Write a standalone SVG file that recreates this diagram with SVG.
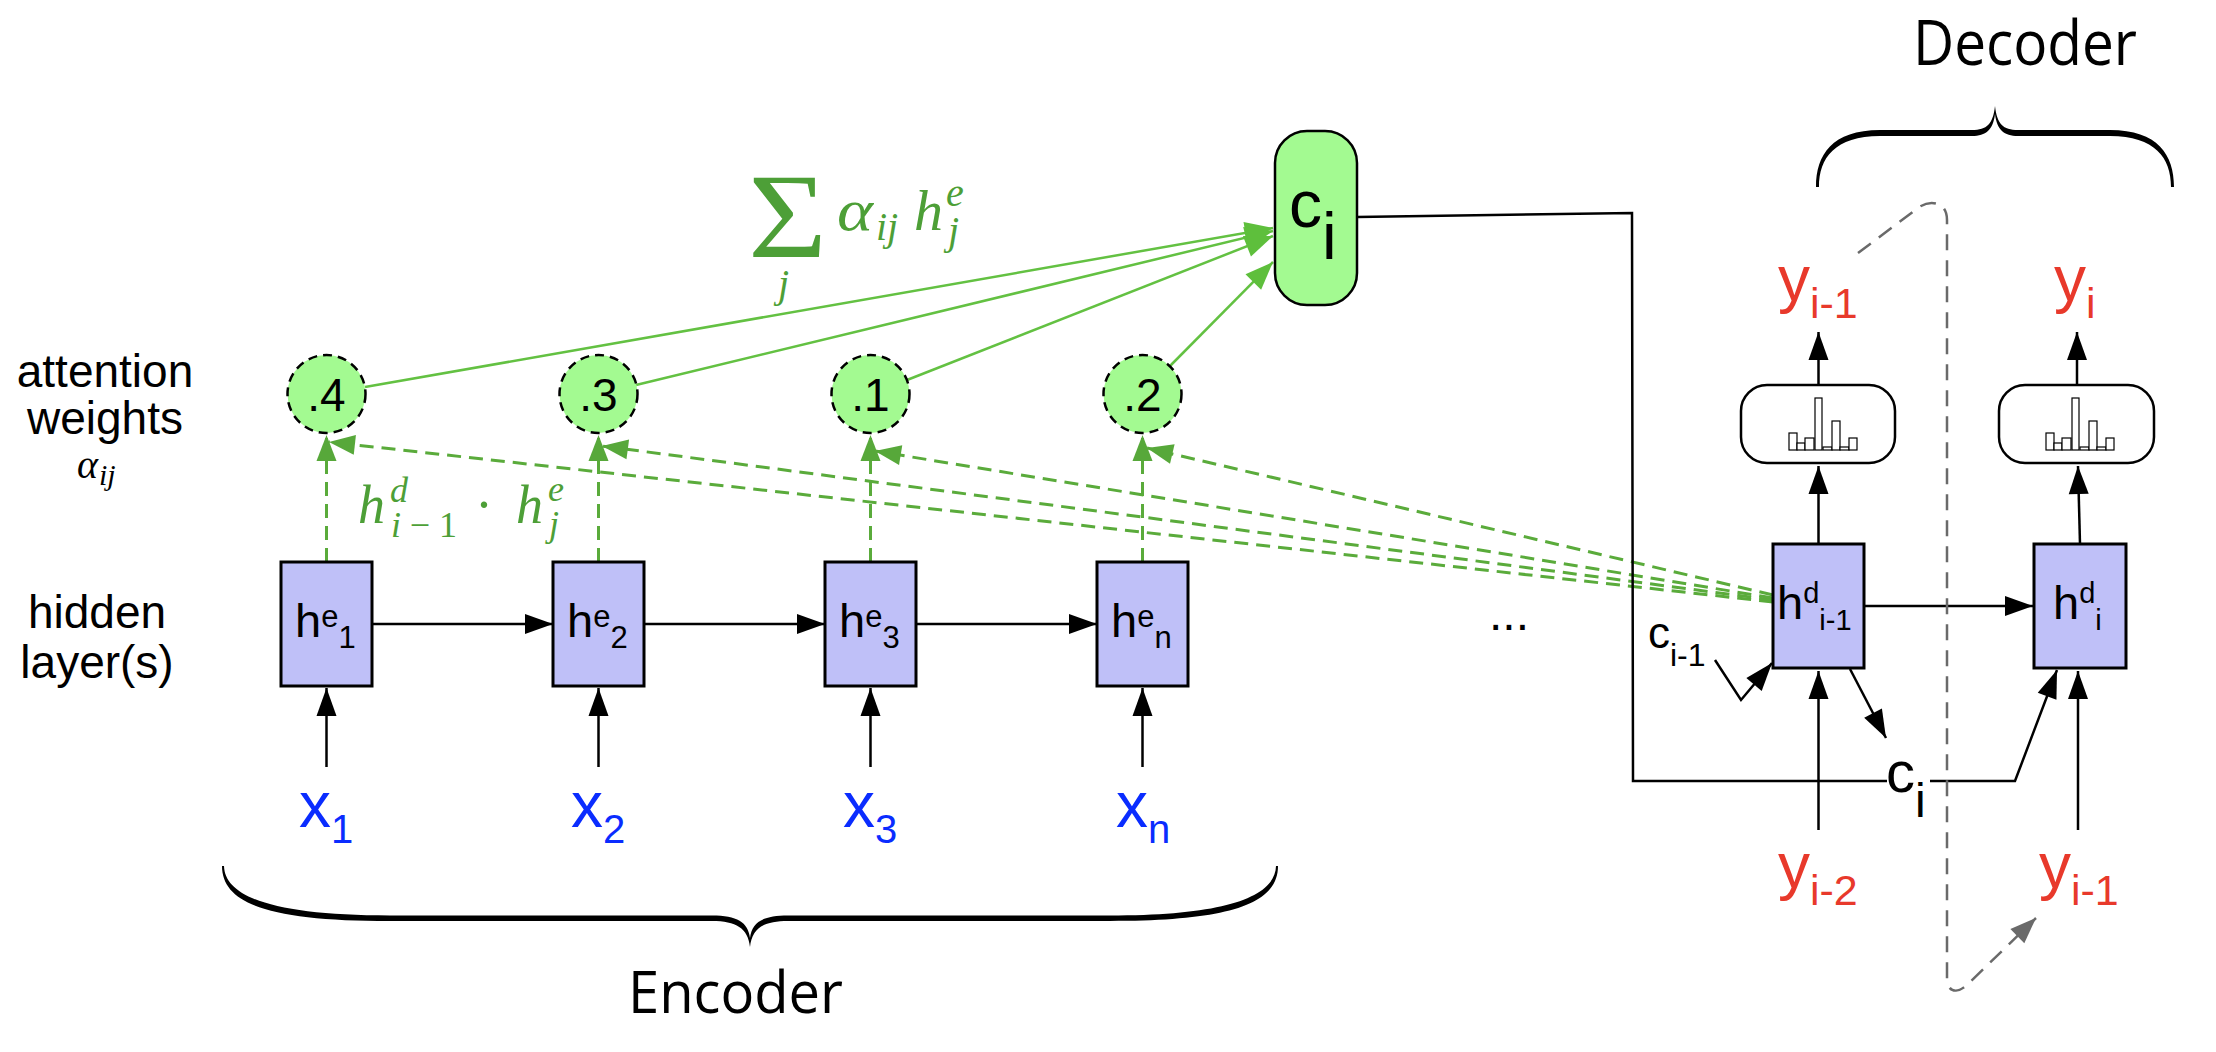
<svg xmlns="http://www.w3.org/2000/svg" width="2216" height="1052" viewBox="0 0 2216 1052">
<style>
text{font-family:"Liberation Sans",Arial,sans-serif;fill:#000}
.box{fill:#bfc0f8;stroke:#000;stroke-width:3}
.att{fill:#a3fa91;stroke:#000;stroke-width:2.5;stroke-dasharray:9 6}
.ci{fill:#a3fa91;stroke:#000;stroke-width:2.5}
.blk{stroke:#000;stroke-width:2.5;fill:none}
.gd{stroke:#5aab3b;stroke-width:3;stroke-dasharray:14 8;fill:none}
.gs{stroke:#63c142;stroke-width:2.5;fill:none}
.gray{stroke:#6a6a6a;stroke-width:2.5;stroke-dasharray:16 10;fill:none}
.math{font-family:"Liberation Serif","Times New Roman",serif;font-style:italic;fill:#4d9f37}
.mk{font-family:"Liberation Serif","Times New Roman",serif;font-style:italic;fill:#000}
.up{font-style:normal}
.xl{fill:#0a2cff}
.yl{fill:#e8392b}
.title{font-family:"Open Sans","Noto Sans",sans-serif}
.sm{fill:#fff;stroke:#000;stroke-width:2.5}
.bar{fill:#fff;stroke:#000;stroke-width:1.2}
</style>
<defs>
<marker id="ab" markerUnits="userSpaceOnUse" markerWidth="28" markerHeight="20" refX="28" refY="10" orient="auto" overflow="visible"><path d="M0,0 L28,10 L0,20 z" fill="#000"/></marker>
<marker id="ag" markerUnits="userSpaceOnUse" markerWidth="26" markerHeight="20" refX="26" refY="10" orient="auto" overflow="visible"><path d="M0,0 L26,10 L0,20 z" fill="#57a83a"/></marker>
<marker id="as" markerUnits="userSpaceOnUse" markerWidth="28" markerHeight="22" refX="28" refY="11" orient="auto" overflow="visible"><path d="M0,0 L28,11 L0,22 z" fill="#5ebf3c"/></marker>
<marker id="ay" markerUnits="userSpaceOnUse" markerWidth="26" markerHeight="20" refX="26" refY="10" orient="auto" overflow="visible"><path d="M0,0 L26,10 L0,20 z" fill="#6a6a6a"/></marker>
</defs>
<rect width="2216" height="1052" fill="#fff"/>

<!-- side labels -->
<g id="label-attention">
<text x="105" y="387" font-size="46" text-anchor="middle">attention</text>
<text x="105" y="434" font-size="46" text-anchor="middle">weights</text>
<text class="mk" x="77" y="478" font-size="40" textLength="21" lengthAdjust="spacingAndGlyphs">α</text>
<text class="mk" x="99" y="485" font-size="30">ij</text>
</g>
<g id="label-hidden">
<text x="97" y="628" font-size="46" text-anchor="middle">hidden</text>
<text x="97" y="678" font-size="46" text-anchor="middle">layer(s)</text>
</g>

<!-- connectors -->
<g id="connectors">
<path class="blk" d="M372,624 L553,624" marker-end="url(#ab)"/>
<path class="blk" d="M644,624 L825,624" marker-end="url(#ab)"/>
<path class="blk" d="M916,624 L1097,624" marker-end="url(#ab)"/>
<path class="blk" d="M326.5,767 L326.5,688" marker-end="url(#ab)"/>
<path class="blk" d="M598.5,767 L598.5,688" marker-end="url(#ab)"/>
<path class="blk" d="M870.5,767 L870.5,688" marker-end="url(#ab)"/>
<path class="blk" d="M1142.5,767 L1142.5,688" marker-end="url(#ab)"/>
<path class="gd" d="M326.5,562 L326.5,435" marker-end="url(#ag)"/>
<path class="gd" d="M598.5,562 L598.5,435" marker-end="url(#ag)"/>
<path class="gd" d="M870.5,562 L870.5,435" marker-end="url(#ag)"/>
<path class="gd" d="M1142.5,562 L1142.5,435" marker-end="url(#ag)"/>
<path class="gd" d="M1773,602 L329,442" marker-end="url(#ag)"/>
<path class="gd" d="M1773,600 L602,446" marker-end="url(#ag)"/>
<path class="gd" d="M1773,598 L875,451" marker-end="url(#ag)"/>
<path class="gd" d="M1773,595 L1147,448" marker-end="url(#ag)"/>
<path class="gs" d="M365,387 L1273,228" marker-end="url(#as)"/>
<path class="gs" d="M636,385 L1273,231" marker-end="url(#as)"/>
<path class="gs" d="M907,380 L1273,236" marker-end="url(#as)"/>
<path class="gs" d="M1170,366 L1273,262" marker-end="url(#as)"/>
<path class="blk" d="M1357,217 L1632,213 L1633,781 L1887,781"/>
<path class="blk" d="M1930,781 L2015,781 L2057,670" marker-end="url(#ab)"/>
<path class="blk" d="M1864,606 L2033,606" marker-end="url(#ab)"/>
<path class="blk" d="M1818.5,544 L1818.5,466" marker-end="url(#ab)"/>
<path class="blk" d="M2080,544 L2078,466" marker-end="url(#ab)"/>
<path class="blk" d="M1818.5,398 L1818.5,332" marker-end="url(#ab)"/>
<path class="blk" d="M2077,385 L2077,332" marker-end="url(#ab)"/>
<path class="blk" d="M1818.5,830 L1818.5,671" marker-end="url(#ab)"/>
<path class="blk" d="M2078,830 L2078,671" marker-end="url(#ab)"/>
<path class="blk" d="M1850,669 L1886,738" marker-end="url(#ab)"/>
<path class="blk" d="M1715,660 L1741,700 L1772,663" marker-end="url(#ab)"/>
<path class="gray" d="M1858,253 L1918,208 C1928,200 1947,200 1947,220 L1947,978 C1947,993 1958,994 1968,984 L2036,918" marker-end="url(#ay)"/>
</g>

<!-- encoder hidden nodes -->
<g id="he1"><rect class="box" x="281" y="562" width="91" height="124"/><text x="295" y="637" font-size="47">h<tspan font-size="31" dy="-10">e</tspan><tspan font-size="31" dy="21">1</tspan></text></g>
<g id="he2"><rect class="box" x="553" y="562" width="91" height="124"/><text x="567" y="637" font-size="47">h<tspan font-size="31" dy="-10">e</tspan><tspan font-size="31" dy="21">2</tspan></text></g>
<g id="he3"><rect class="box" x="825" y="562" width="91" height="124"/><text x="839" y="637" font-size="47">h<tspan font-size="31" dy="-10">e</tspan><tspan font-size="31" dy="21">3</tspan></text></g>
<g id="hen"><rect class="box" x="1097" y="562" width="91" height="124"/><text x="1111" y="637" font-size="47">h<tspan font-size="31" dy="-10">e</tspan><tspan font-size="31" dy="21">n</tspan></text></g>

<!-- attention weights -->
<g id="w1"><circle class="att" cx="326.5" cy="394" r="39"/><text x="326.5" y="411" font-size="46" text-anchor="middle">.4</text></g>
<g id="w2"><circle class="att" cx="598.5" cy="394" r="39"/><text x="598.5" y="411" font-size="46" text-anchor="middle">.3</text></g>
<g id="w3"><circle class="att" cx="870.5" cy="394" r="39"/><text x="870.5" y="411" font-size="46" text-anchor="middle">.1</text></g>
<g id="w4"><circle class="att" cx="1142.5" cy="394" r="39"/><text x="1142.5" y="411" font-size="46" text-anchor="middle">.2</text></g>

<!-- inputs -->
<g id="x1"><text class="xl" x="299" y="827" font-size="64">x<tspan font-size="40" dy="16">1</tspan></text></g>
<g id="x2"><text class="xl" x="571" y="827" font-size="64">x<tspan font-size="40" dy="16">2</tspan></text></g>
<g id="x3"><text class="xl" x="843" y="827" font-size="64">x<tspan font-size="40" dy="16">3</tspan></text></g>
<g id="xn"><text class="xl" x="1116" y="827" font-size="64">x<tspan font-size="40" dy="16">n</tspan></text></g>

<!-- formulas -->
<g id="dot-formula">
<text class="math" x="358" y="523" font-size="54">h</text>
<text class="math" x="390" y="502" font-size="36">d</text>
<text class="math" x="391" y="537" font-size="36" textLength="66" lengthAdjust="spacing">i<tspan class="up">−1</tspan></text>
<text class="math up" x="475" y="523" font-size="54">·</text>
<text class="math" x="516" y="523" font-size="54">h</text>
<text class="math" x="548" y="501" font-size="36">e</text>
<text class="math" x="549" y="536" font-size="36">j</text>
</g>
<g id="sum-formula">
<text class="math up" x="748" y="257" font-size="120" textLength="79" lengthAdjust="spacingAndGlyphs">Σ</text>
<text class="math" x="778" y="297" font-size="40">j</text>
<text class="math" x="837" y="230" font-size="60" textLength="36" lengthAdjust="spacingAndGlyphs">α</text>
<text class="math" x="876" y="240" font-size="40">ij</text>
<text class="math" x="914" y="230" font-size="58">h</text>
<text class="math" x="946" y="206" font-size="40">e</text>
<text class="math" x="948" y="244" font-size="40">j</text>
</g>

<!-- context vector -->
<g id="ci"><rect class="ci" x="1275" y="131" width="82" height="174" rx="32" ry="32"/><text x="1289" y="227" font-size="66">c<tspan dy="32">i</tspan></text></g>

<g id="dots"><text x="1489" y="630" font-size="48">...</text></g>

<!-- decoder hidden -->
<g id="hd1"><rect class="box" x="1773" y="544" width="91" height="124"/><text x="1777" y="619" font-size="47">h<tspan font-size="29" dy="-16">d</tspan><tspan font-size="29" dy="27">i-1</tspan></text></g>
<g id="hd2"><rect class="box" x="2034" y="544" width="92" height="124"/><text x="2053" y="619" font-size="47">h<tspan font-size="29" dy="-16">d</tspan><tspan font-size="29" dy="27">i</tspan></text></g>

<!-- softmax boxes -->
<g id="sm1"><rect class="sm" x="1741" y="385" width="154" height="78" rx="26"/>
<rect class="bar" x="1789" y="433" width="8" height="17"/><rect class="bar" x="1797" y="443" width="8" height="7"/><rect class="bar" x="1805" y="438" width="9" height="12"/><rect class="bar" x="1815" y="398" width="7" height="52"/><rect class="bar" x="1823" y="447" width="9" height="3"/><rect class="bar" x="1832" y="421" width="8" height="29"/><rect class="bar" x="1840" y="447" width="9" height="3"/><rect class="bar" x="1849" y="438" width="8" height="12"/></g>
<g id="sm2"><rect class="sm" x="1999" y="385" width="155" height="78" rx="26"/>
<rect class="bar" x="2046" y="433" width="8" height="17"/><rect class="bar" x="2054" y="443" width="8" height="7"/><rect class="bar" x="2062" y="438" width="9" height="12"/><rect class="bar" x="2072" y="398" width="7" height="52"/><rect class="bar" x="2080" y="447" width="9" height="3"/><rect class="bar" x="2089" y="421" width="8" height="29"/><rect class="bar" x="2097" y="447" width="9" height="3"/><rect class="bar" x="2106" y="438" width="8" height="12"/></g>

<!-- decoder outputs / inputs -->
<g id="y-out1"><text class="yl" x="1778" y="301" font-size="64">y<tspan font-size="43" dy="17">i-1</tspan></text></g>
<g id="y-out2"><text class="yl" x="2054" y="301" font-size="64">y<tspan font-size="43" dy="17">i</tspan></text></g>
<g id="y-in1"><text class="yl" x="1778" y="888" font-size="64">y<tspan font-size="43" dy="17">i-2</tspan></text></g>
<g id="y-in2"><text class="yl" x="2039" y="888" font-size="64">y<tspan font-size="43" dy="17">i-1</tspan></text></g>

<g id="c-prev"><text x="1648" y="648" font-size="44">c<tspan font-size="32" dy="18">i-1</tspan></text></g>
<g id="c-cur"><text x="1886" y="792" font-size="58">c<tspan font-size="48" dy="25">i</tspan></text></g>

<!-- braces -->
<g id="encoder-brace">
<path fill="#000" d="M224,866 C225,898 277,915.5 390,915.5 L712,915.5 C737,915.5 748,922 750,938 C752,922 763,915.5 788,915.5 L1110,915.5 C1223,915.5 1275,898 1276,866 L1278,866 C1278,905 1227,921 1110,921 L788,921 C764,921 752,928 750,947 C748,928 736,921 712,921 L390,921 C273,921 222,905 222,866 Z"/>
<text class="title" x="628" y="1013" font-size="58" textLength="215" lengthAdjust="spacingAndGlyphs">Encoder</text>
</g>
<g id="decoder-brace">
<path fill="#000" d="M1819,187 C1819,158 1835,136 1880,136 L1972,136 C1986,136 1993,130 1995,114 C1997,130 2004,136 2018,136 L2110,136 C2155,136 2171,158 2171,187 L2174,187 C2174,155 2158,130 2110,130 L2018,130 C2003,130 1997,124 1995,106 C1993,124 1987,130 1972,130 L1880,130 C1832,130 1816,155 1816,187 Z"/>
<text class="title" x="1913" y="65" font-size="62" textLength="224" lengthAdjust="spacingAndGlyphs">Decoder</text>
</g>
</svg>
